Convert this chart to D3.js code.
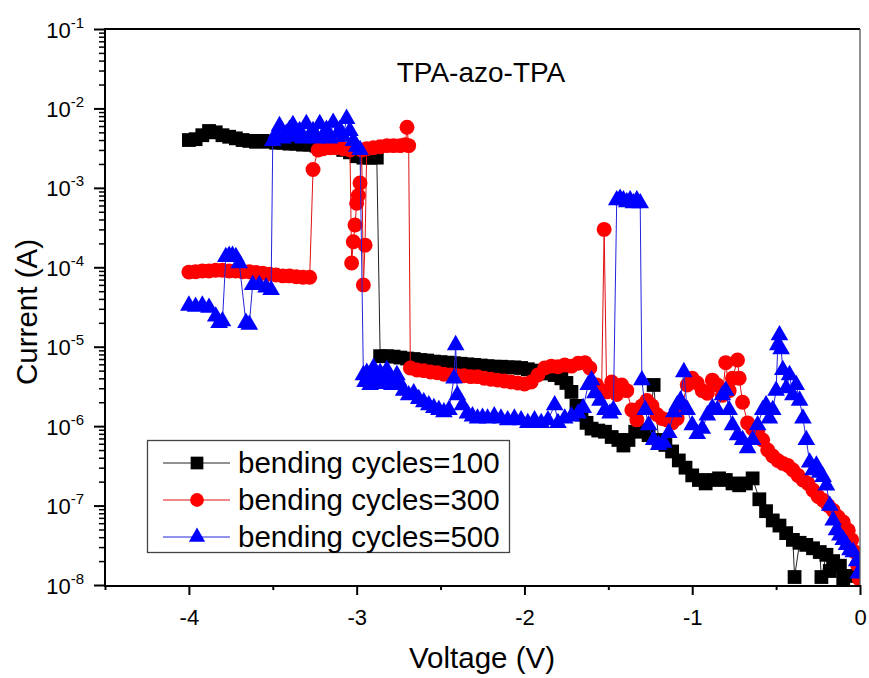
<!DOCTYPE html>
<html>
<head>
<meta charset="utf-8">
<script src="https://cdn.jsdelivr.net/npm/d3@7"></script>
<style>
body { margin: 0; background: #fff; }
text { font-family: "Liberation Sans", Arial, sans-serif; fill: #000; }
</style>
</head>
<body>
<div id="vis"></div>
<script>
// I-V data: [voltage (V), current (A)]
const cycles100 = [
    [-4.00, 4.0e-3], [-3.96, 4.1e-3], [-3.92, 4.6e-3], [-3.88, 5.2e-3], [-3.84, 5.0e-3],
    [-3.80, 4.6e-3], [-3.76, 4.4e-3], [-3.72, 4.2e-3], [-3.68, 4.0e-3], [-3.64, 3.9e-3],
    [-3.60, 3.8e-3], [-3.56, 3.9e-3], [-3.52, 3.8e-3], [-3.48, 3.7e-3], [-3.44, 3.7e-3],
    [-3.40, 3.6e-3], [-3.36, 3.6e-3], [-3.32, 3.5e-3], [-3.28, 3.5e-3], [-3.24, 3.4e-3],
    [-3.20, 3.4e-3], [-3.16, 3.3e-3], [-3.12, 3.2e-3], [-3.08, 3.0e-3], [-3.04, 2.8e-3],
    [-3.00, 2.5e-3], [-2.96, 2.4e-3], [-2.92, 2.4e-3], [-2.88, 2.4e-3],
    [-2.86, 7.6e-6], [-2.82, 7.6e-6], [-2.78, 7.5e-6], [-2.74, 7.3e-6], [-2.70, 7.1e-6],
    [-2.66, 7.0e-6], [-2.62, 6.8e-6], [-2.58, 6.7e-6], [-2.54, 6.5e-6], [-2.50, 6.4e-6],
    [-2.46, 6.3e-6], [-2.42, 6.2e-6], [-2.38, 6.1e-6], [-2.34, 6.0e-6], [-2.30, 5.9e-6],
    [-2.26, 5.8e-6], [-2.22, 5.7e-6], [-2.18, 5.6e-6], [-2.14, 5.6e-6], [-2.10, 5.5e-6],
    [-2.06, 5.5e-6], [-2.02, 5.4e-6], [-1.98, 5.2e-6], [-1.94, 5.0e-6], [-1.90, 4.8e-6],
    [-1.86, 4.6e-6], [-1.82, 4.4e-6], [-1.78, 4.0e-6], [-1.75, 3.5e-6], [-1.72, 2.7e-6],
    [-1.69, 1.8e-6], [-1.66, 1.4e-6], [-1.63, 1.1e-6], [-1.60, 9.3e-7], [-1.56, 8.8e-7],
    [-1.52, 8.5e-7], [-1.48, 7.3e-7], [-1.44, 6.7e-7], [-1.41, 5.7e-7], [-1.38, 6.7e-7],
    [-1.34, 8.5e-7], [-1.30, 8.9e-7], [-1.26, 7.7e-7], [-1.23, 3.3e-6], [-1.20, 6.7e-7],
    [-1.16, 5.8e-7], [-1.12, 4.8e-7], [-1.08, 3.7e-7], [-1.04, 3.0e-7], [-1.00, 2.4e-7],
    [-0.96, 2.1e-7], [-0.92, 1.9e-7], [-0.88, 2.1e-7], [-0.84, 2.2e-7], [-0.80, 2.1e-7],
    [-0.76, 1.9e-7], [-0.72, 1.8e-7], [-0.68, 1.9e-7], [-0.64, 2.2e-7], [-0.60, 1.2e-7],
    [-0.56, 8.5e-8], [-0.52, 6.5e-8], [-0.48, 5.6e-8], [-0.44, 4.5e-8], [-0.40, 3.7e-8],
    [-0.39, 1.26e-8], [-0.36, 3.4e-8], [-0.32, 3.2e-8], [-0.28, 2.9e-8], [-0.24, 2.6e-8],
    [-0.23, 1.26e-8], [-0.20, 2.4e-8], [-0.18, 1.5e-8], [-0.16, 2.0e-8], [-0.12, 1.75e-8],
    [-0.10, 1.2e-8], [-0.07, 1.3e-8]
];

const cycles300 = [
    [-4.00, 8.7e-5], [-3.96, 8.8e-5], [-3.92, 9.0e-5], [-3.88, 9.0e-5], [-3.84, 9.2e-5],
    [-3.80, 9.2e-5], [-3.76, 9.0e-5], [-3.72, 9.0e-5], [-3.68, 8.8e-5], [-3.64, 8.8e-5],
    [-3.60, 8.6e-5], [-3.56, 8.4e-5], [-3.52, 8.2e-5], [-3.48, 8.0e-5], [-3.44, 7.8e-5],
    [-3.40, 7.8e-5], [-3.36, 7.6e-5], [-3.32, 7.5e-5], [-3.28, 7.5e-5],
    [-3.26, 1.7e-3], [-3.23, 3.0e-3], [-3.20, 3.1e-3], [-3.16, 3.2e-3], [-3.12, 3.2e-3],
    [-3.08, 3.1e-3], [-3.04, 3.0e-3], [-3.03, 1.13e-4], [-3.02, 2.1e-4], [-3.01, 3.4e-4],
    [-3.00, 6.4e-4], [-2.99, 8.0e-4], [-2.98, 1.15e-3], [-2.97, 3.0e-3], [-2.96, 6.0e-5],
    [-2.95, 1.9e-4], [-2.94, 3.1e-3], [-2.90, 3.2e-3], [-2.86, 3.3e-3], [-2.82, 3.4e-3],
    [-2.78, 3.4e-3], [-2.74, 3.4e-3], [-2.71, 3.5e-3], [-2.70, 5.8e-3], [-2.69, 3.4e-3],
    [-2.68, 5.4e-6], [-2.64, 5.1e-6], [-2.60, 5.0e-6], [-2.56, 4.8e-6], [-2.52, 4.7e-6],
    [-2.48, 4.5e-6], [-2.44, 4.4e-6], [-2.40, 4.3e-6], [-2.36, 4.3e-6], [-2.32, 4.2e-6],
    [-2.28, 4.2e-6], [-2.24, 4.0e-6], [-2.20, 3.9e-6], [-2.16, 3.8e-6], [-2.12, 3.7e-6],
    [-2.08, 3.6e-6], [-2.04, 3.5e-6], [-2.00, 3.4e-6], [-1.96, 3.6e-6], [-1.92, 4.4e-6],
    [-1.88, 5.4e-6], [-1.84, 5.7e-6], [-1.80, 5.6e-6], [-1.76, 5.9e-6], [-1.72, 5.7e-6],
    [-1.68, 6.2e-6], [-1.64, 6.3e-6], [-1.61, 5.4e-6], [-1.57, 3.3e-6], [-1.54, 2.8e-6],
    [-1.525, 3.0e-4], [-1.51, 2.7e-6], [-1.48, 3.6e-6], [-1.45, 2.5e-6], [-1.42, 3.3e-6],
    [-1.39, 2.8e-6], [-1.36, 1.6e-6], [-1.33, 1.2e-6], [-1.30, 1.8e-6], [-1.27, 2.1e-6],
    [-1.24, 1.8e-6], [-1.21, 1.4e-6], [-1.18, 1.25e-6], [-1.15, 1.2e-6], [-1.12, 1.1e-6],
    [-1.09, 1.25e-6], [-1.06, 1.8e-6], [-1.03, 3.3e-6], [-1.00, 4.0e-6], [-0.97, 3.5e-6],
    [-0.94, 2.8e-6], [-0.91, 2.6e-6], [-0.88, 3.8e-6], [-0.85, 3.3e-6], [-0.82, 2.45e-6],
    [-0.80, 6.3e-6], [-0.78, 2.8e-6], [-0.76, 4.0e-6], [-0.73, 6.8e-6], [-0.72, 4.0e-6],
    [-0.70, 2.0e-6], [-0.67, 1.1e-6], [-0.64, 9.3e-7], [-0.61, 8.6e-7], [-0.58, 6.7e-7],
    [-0.55, 5.0e-7], [-0.52, 4.2e-7], [-0.49, 3.7e-7], [-0.46, 3.4e-7], [-0.43, 3.2e-7],
    [-0.40, 2.8e-7], [-0.37, 2.4e-7], [-0.34, 2.1e-7], [-0.31, 1.9e-7], [-0.28, 1.56e-7],
    [-0.25, 1.3e-7], [-0.22, 1.17e-7], [-0.19, 1.0e-7], [-0.16, 8.7e-8], [-0.13, 7.2e-8],
    [-0.10, 6.2e-8], [-0.07, 4.9e-8], [-0.05, 3.7e-8], [-0.03, 2.6e-8], [-0.015, 1.8e-8],
    [-0.005, 1.2e-8]
];

const cycles500 = [
    [-4.00, 3.3e-5], [-3.96, 3.2e-5], [-3.92, 3.3e-5], [-3.88, 3.1e-5], [-3.84, 2.4e-5],
    [-3.82, 2.0e-5], [-3.80, 2.1e-5], [-3.78, 1.35e-4], [-3.76, 1.4e-4], [-3.74, 1.4e-4],
    [-3.72, 1.35e-4], [-3.70, 1.13e-4], [-3.66, 2.0e-5], [-3.64, 1.9e-5], [-3.62, 6.0e-5],
    [-3.58, 6.0e-5], [-3.54, 5.6e-5], [-3.51, 5.2e-5],
    [-3.50, 3.9e-3], [-3.48, 4.8e-3], [-3.46, 6.0e-3], [-3.44, 4.2e-3], [-3.42, 4.8e-3],
    [-3.40, 5.4e-3], [-3.38, 6.2e-3], [-3.36, 4.4e-3], [-3.34, 5.2e-3], [-3.32, 4.2e-3],
    [-3.30, 6.4e-3], [-3.28, 4.6e-3], [-3.26, 5.2e-3], [-3.24, 4.2e-3], [-3.22, 6.4e-3],
    [-3.20, 4.5e-3], [-3.18, 5.4e-3], [-3.16, 4.2e-3], [-3.14, 6.6e-3], [-3.12, 4.4e-3],
    [-3.10, 5.4e-3], [-3.08, 4.4e-3], [-3.06, 7.4e-3], [-3.04, 5.2e-3], [-3.02, 3.9e-3],
    [-3.00, 3.3e-3], [-2.98, 3.0e-3],
    [-2.96, 4.4e-6], [-2.95, 3.6e-6], [-2.94, 4.7e-6], [-2.92, 3.3e-6], [-2.91, 4.2e-6],
    [-2.90, 5.4e-6], [-2.88, 4.0e-6], [-2.87, 3.4e-6], [-2.86, 4.7e-6], [-2.84, 3.8e-6],
    [-2.83, 4.4e-6], [-2.82, 5.1e-6], [-2.80, 4.0e-6], [-2.79, 3.3e-6], [-2.78, 3.6e-6],
    [-2.76, 4.4e-6], [-2.75, 3.7e-6], [-2.74, 3.3e-6], [-2.72, 2.8e-6], [-2.69, 2.45e-6],
    [-2.66, 2.6e-6], [-2.63, 2.2e-6], [-2.60, 2.0e-6], [-2.57, 1.84e-6], [-2.54, 1.7e-6],
    [-2.51, 1.6e-6], [-2.48, 1.5e-6], [-2.45, 1.6e-6], [-2.42, 4.0e-6], [-2.41, 1.05e-5],
    [-2.40, 2.45e-6], [-2.37, 1.84e-6], [-2.34, 1.45e-6], [-2.31, 1.33e-6], [-2.28, 1.25e-6],
    [-2.25, 1.28e-6], [-2.22, 1.25e-6], [-2.18, 1.33e-6], [-2.14, 1.25e-6], [-2.10, 1.19e-6],
    [-2.06, 1.25e-6], [-2.02, 1.19e-6], [-1.98, 1.1e-6], [-1.94, 1.19e-6], [-1.90, 1.1e-6],
    [-1.86, 1.19e-6], [-1.82, 1.84e-6], [-1.80, 1.1e-6], [-1.76, 1.25e-6], [-1.72, 1.33e-6],
    [-1.68, 1.45e-6], [-1.65, 1.7e-6], [-1.62, 3.3e-6], [-1.60, 3.8e-6], [-1.58, 2.6e-6],
    [-1.55, 2.1e-6], [-1.52, 1.6e-6], [-1.49, 1.45e-6], [-1.47, 1.6e-6],
    [-1.45, 7.0e-4], [-1.43, 7.3e-4], [-1.41, 7.0e-4], [-1.39, 6.6e-4], [-1.37, 7.0e-4],
    [-1.35, 6.4e-4], [-1.33, 7.0e-4], [-1.31, 6.4e-4],
    [-1.30, 3.8e-6], [-1.28, 1.6e-6], [-1.26, 1.03e-6], [-1.23, 6.7e-7], [-1.20, 5.8e-7],
    [-1.17, 6.2e-7], [-1.14, 8.2e-7], [-1.11, 1.5e-6], [-1.09, 1.84e-6], [-1.07, 2.1e-6],
    [-1.05, 4.8e-6], [-1.03, 1.6e-6], [-1.00, 1.03e-6], [-0.97, 8.0e-7], [-0.94, 9.3e-7],
    [-0.91, 1.37e-6], [-0.88, 1.7e-6], [-0.85, 1.6e-6], [-0.82, 2.45e-6], [-0.80, 2.8e-6],
    [-0.78, 1.6e-6], [-0.76, 1.03e-6], [-0.73, 7.7e-7], [-0.70, 6.7e-7], [-0.67, 5.3e-7],
    [-0.64, 6.7e-7], [-0.61, 1.03e-6], [-0.58, 1.6e-6], [-0.56, 1.84e-6], [-0.54, 1.25e-6],
    [-0.52, 1.6e-6], [-0.50, 2.8e-6], [-0.49, 1.05e-5], [-0.48, 1.4e-5], [-0.47, 9.3e-6],
    [-0.46, 5.1e-6], [-0.44, 3.0e-6], [-0.42, 4.4e-6], [-0.40, 2.45e-6], [-0.38, 3.3e-6],
    [-0.36, 2.1e-6], [-0.34, 1.25e-6], [-0.32, 6.7e-7], [-0.30, 3.5e-7], [-0.28, 2.8e-7],
    [-0.26, 3.2e-7], [-0.24, 2.6e-7], [-0.22, 2.3e-7], [-0.20, 1.8e-7], [-0.18, 1.0e-7],
    [-0.16, 6.5e-8], [-0.14, 4.9e-8], [-0.12, 4.2e-8], [-0.10, 3.7e-8], [-0.08, 3.2e-8],
    [-0.06, 2.75e-8], [-0.04, 2.6e-8], [-0.02, 2.0e-8], [-0.01, 1.4e-8]
];

const seriesNames = ["bending cycles=100", "bending cycles=300", "bending cycles=500"];
const xMajorTicks = [-4, -3, -2, -1, 0];
const xMinorTicks = [-4.5, -3.5, -2.5, -1.5, -0.5];
const yExponents = [-8, -7, -6, -5, -4, -3, -2, -1];
const chartTitle = "TPA-azo-TPA";

const svg = d3.select("#vis")
    .append("svg")
    .attr("width", 869)
    .attr("height", 678);

svg.append("rect")
    .attr("width", 869)
    .attr("height", 678)
    .attr("fill", "#fff");

const plotLeft = 105, plotRight = 860, plotTop = 29, plotBottom = 585;

const x = d3.scaleLinear().domain([-4.5, 0]).range([plotLeft, plotRight]);
const y = d3.scaleLog().domain([1e-8, 1e-1]).range([plotBottom, plotTop]);

// minor ticks on the log axis (2..9 in every decade)
const yMinor = [];
yExponents.slice(0, -1).forEach(function (e) {
    for (let k = 2; k <= 9; k++) yMinor.push(k * Math.pow(10, e));
});

svg.append("g")
    .attr("transform", `translate(${plotLeft},0)`)
    .call(d3.axisLeft(y).tickValues(yMinor).tickSize(6).tickFormat(""))
    .call(g => g.select(".domain").remove())
    .call(g => g.selectAll("line").attr("stroke-width", 1.5));

const yAxis = svg.append("g")
    .attr("transform", `translate(${plotLeft},0)`)
    .call(d3.axisLeft(y).tickValues(yExponents.map(e => Math.pow(10, e))).tickSize(11).tickFormat(""))
    .call(g => g.select(".domain").remove())
    .call(g => g.selectAll("line").attr("stroke-width", 2));

yAxis.selectAll(".tick").each(function (d) {
    const t = d3.select(this).append("text")
        .attr("x", -21)
        .attr("y", 8)
        .attr("text-anchor", "end")
        .style("font-size", "22px")
        .style("fill", "#000");
    t.append("tspan").text("10");
    t.append("tspan")
        .attr("dy", -10)
        .style("font-size", "15px")
        .text(Math.round(Math.log10(d)));
});

svg.append("g")
    .attr("transform", `translate(0,${plotBottom})`)
    .call(d3.axisBottom(x).tickValues(xMinorTicks).tickSize(5).tickFormat(""))
    .call(g => g.select(".domain").remove())
    .call(g => g.selectAll("line").attr("stroke-width", 2));

svg.append("g")
    .attr("transform", `translate(0,${plotBottom})`)
    .call(d3.axisBottom(x).tickValues(xMajorTicks).tickSize(10).tickFormat(d3.format("d")))
    .call(g => g.select(".domain").remove())
    .call(g => g.selectAll("line").attr("stroke-width", 2))
    .call(g => g.selectAll("text")
        .attr("y", 24)
        .style("font-size", "22px")
        .style("font-family", "'Liberation Sans', Arial, sans-serif")
        .text(d => d === 0 ? "0" : "-" + Math.abs(d)));

// clip for the marks
svg.append("clipPath")
    .attr("id", "plotClip")
    .append("rect")
    .attr("x", plotLeft)
    .attr("y", plotTop - 8)
    .attr("width", plotRight - plotLeft)
    .attr("height", plotBottom - plotTop + 8);

const series = [
    {name: seriesNames[0], data: cycles100, color: "#000000", line: "#222222", symbol: d3.symbolSquare, size: 190},
    {name: seriesNames[1], data: cycles300, color: "#ff0000", line: "#e01010", symbol: d3.symbolCircle, size: 175},
    {name: seriesNames[2], data: cycles500, color: "#0000ff", line: "#2222dd", symbol: d3.symbolTriangle, size: 135}
];

const line = d3.line()
    .x(d => x(d[0]))
    .y(d => y(d[1]));

const plot = svg.append("g").attr("clip-path", "url(#plotClip)");

series.forEach(function (s) {
    const g = plot.append("g");
    g.append("path")
        .datum(s.data)
        .attr("d", line)
        .attr("fill", "none")
        .attr("stroke", s.line)
        .attr("stroke-width", 1);
    g.selectAll("path.pt")
        .data(s.data)
        .enter()
        .append("path")
        .attr("class", "pt")
        .attr("transform", d => `translate(${x(d[0])},${y(d[1])})`)
        .attr("d", d3.symbol().type(s.symbol).size(s.size))
        .attr("fill", s.color);
});

// frame
svg.append("path")
    .attr("d", `M${plotLeft},${plotTop}H${plotRight}`)
    .attr("stroke", "#000").attr("stroke-width", 2);
svg.append("path")
    .attr("d", `M${plotRight},${plotTop}V${plotBottom}`)
    .attr("stroke", "#555").attr("stroke-width", 1.3);
svg.append("path")
    .attr("d", `M${plotLeft},${plotTop - 1}V${plotBottom + 1}H${plotRight + 1}`)
    .attr("fill", "none")
    .attr("stroke", "#000").attr("stroke-width", 2);

// legend
const legend = svg.append("g");
legend.append("rect")
    .attr("x", 147.5)
    .attr("y", 440.5)
    .attr("width", 362)
    .attr("height", 112)
    .attr("fill", "#fff")
    .attr("stroke", "#444")
    .attr("stroke-width", 1.3);

series.forEach(function (s, i) {
    const cy = 463 + i * 37;
    legend.append("line")
        .attr("x1", 163).attr("x2", 230)
        .attr("y1", cy).attr("y2", cy)
        .attr("stroke", s.line)
        .attr("stroke-width", 1);
    legend.append("path")
        .attr("transform", `translate(197,${cy})`)
        .attr("d", d3.symbol().type(s.symbol).size(s.size * 0.85))
        .attr("fill", s.color);
    legend.append("text")
        .attr("x", 238)
        .attr("y", cy + 10)
        .style("font-size", "29.5px")
        .text(s.name);
});

// titles
svg.append("text")
    .attr("x", 481)
    .attr("y", 82)
    .attr("text-anchor", "middle")
    .style("font-size", "28px")
    .text(chartTitle);

svg.append("text")
    .attr("x", 482)
    .attr("y", 668)
    .attr("text-anchor", "middle")
    .style("font-size", "29.5px")
    .text("Voltage (V)");

svg.append("text")
    .attr("transform", "translate(37,312) rotate(-90)")
    .attr("text-anchor", "middle")
    .style("font-size", "29.5px")
    .text("Current (A)");
</script>
</body>
</html>
